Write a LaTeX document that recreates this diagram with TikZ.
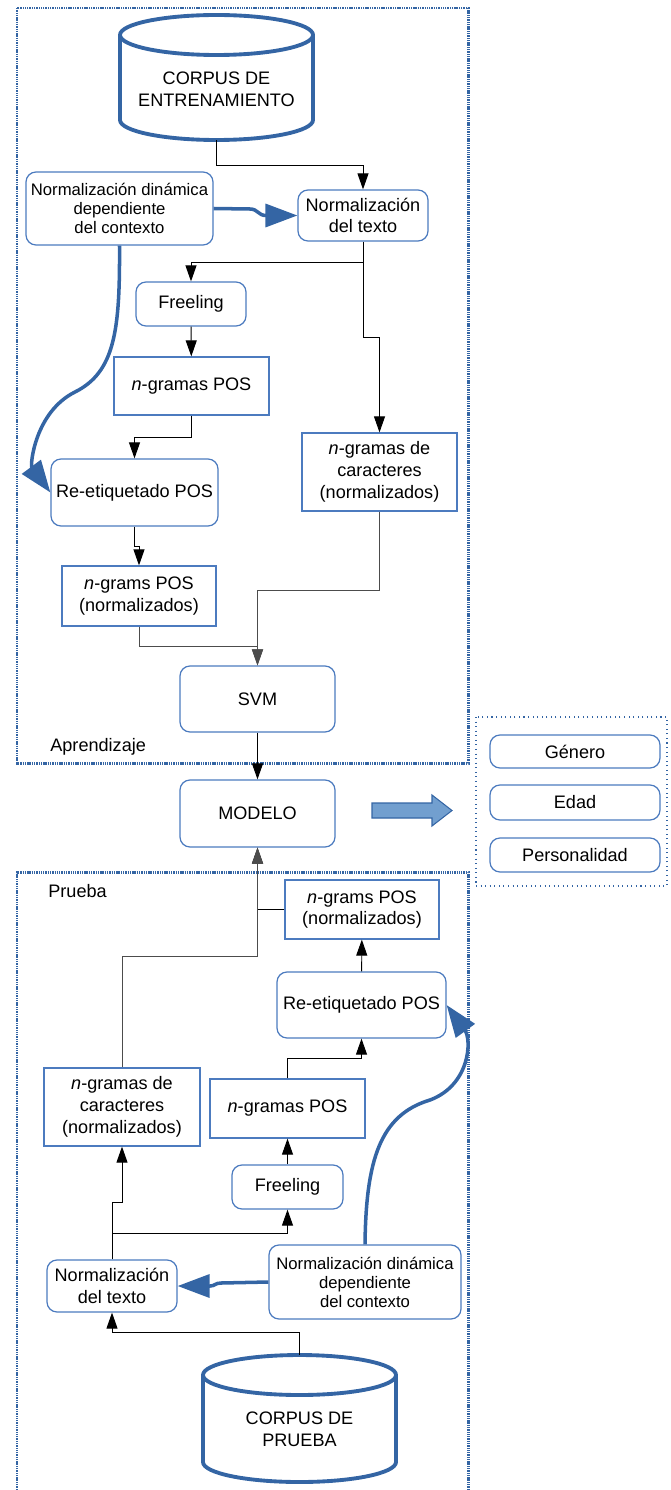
\documentclass[tikz,border=0pt]{standalone}
\usepackage{fontspec}
\setmainfont{Liberation Sans}
\usetikzlibrary{arrows.meta}
\definecolor{azul}{HTML}{3465A4}
\definecolor{borde}{HTML}{4C7BBF}
\definecolor{relleno}{HTML}{729FCF}
\newcommand\pxu{0.02cm}
\newcommand\letra{\fontsize{10.3}{12.4}\selectfont}
\newcommand\letrach{\fontsize{9.5}{10.8}\selectfont}
\tikzset{
  caja/.style={draw=borde, line width=0.7pt, fill=white, align=center, inner sep=1pt, font=\letra},
  redonda/.style={caja, rounded corners=0.2cm},
  cilindro/.style={draw=azul, line width=2.2pt},
  conector/.style={draw=black, line width=0.55pt, -{Triangle[length=0.32cm,width=0.22cm]}},
  gris/.style={conector, draw=black!70},
  gruesa/.style={draw=azul, line width=2pt, -{Triangle[length=0.64cm,width=0.46cm]}},
  marco/.style={draw=azul, line width=1.7pt, dash pattern=on 0.8pt off 0.5pt},
  marcofino/.style={draw=azul, line width=0.6pt, dotted},
  flecha/.style={fill=relleno, draw=azul, line width=0.6pt}
}
\begin{document}
\begin{tikzpicture}[x=\pxu, y=-\pxu]
  \useasboundingbox (0,0) rectangle (670,1490);
  % marcos
  \draw[marco] (17,8) rectangle (468,763);
  \draw[marco] (17,1490) -- (17,872) -- (468,872) -- (468,1490);
  \draw[marcofino] (476,717) rectangle (667,886);
  \node[anchor=west, inner sep=0pt, font=\letra] (aprend) at (50,747) {Aprendizaje};
  \node[anchor=west, inner sep=0pt, font=\letra] (prueba) at (48,891) {Prueba};

  % aprendizaje
  \draw[cilindro] (120,35) -- (120,120) arc[start angle=180, end angle=0, x radius=96.5, y radius=20] -- (313,35);
  \draw[cilindro] (216.5,35) ellipse [x radius=96.5, y radius=20];
  \node[minimum width=193*\pxu, minimum height=125*\pxu, inner sep=0pt,
    label={[font=\letra, align=center, yshift=-0.24cm]center:CORPUS DE\\ENTRENAMIENTO}] (corpusE) at (216.5,77.5) {};
  \node[redonda, font=\letrach, minimum width=187*\pxu, minimum height=73*\pxu] (dinE) at (119.5,208.5) {Normalización dinámica\\dependiente\\del contexto};
  \node[redonda, minimum width=130*\pxu, minimum height=51*\pxu] (normE) at (363,215.5) {Normalización\\del texto};
  \node[redonda, minimum width=110*\pxu, minimum height=44*\pxu] (freeE) at (191,304) {Freeling};
  \node[caja, minimum width=155*\pxu, minimum height=58*\pxu] (posE) at (191.5,386) {\textit{n}-gramas POS};
  \node[redonda, minimum width=167*\pxu, minimum height=67*\pxu] (retE) at (134.5,492.5) {Re-etiquetado POS};
  \node[caja, minimum width=155*\pxu, minimum height=78*\pxu] (carE) at (379.5,472) {\textit{n}-gramas de\\caracteres\\(normalizados)};
  \node[caja, minimum width=154*\pxu, minimum height=60*\pxu] (posnE) at (139,596) {\textit{n}-grams POS\\(normalizados)};
  \node[redonda, minimum width=155*\pxu, minimum height=66*\pxu] (svm) at (257.5,699) {SVM};
  \node[redonda, minimum width=155*\pxu, minimum height=67*\pxu] (modelo) at (257.5,813.5) {MODELO};

  % salidas
  \node[redonda, minimum width=170*\pxu, minimum height=33*\pxu] (genero) at (575,751.5) {Género};
  \node[redonda, minimum width=170*\pxu, minimum height=35*\pxu] (edad) at (575,802.5) {Edad};
  \node[redonda, minimum width=170*\pxu, minimum height=34*\pxu] (person) at (575,855) {Personalidad};
  \draw[flecha] (372,803) -- (432,803) -- (432,795) -- (452,810.5) -- (432,826) -- (432,818) -- (372,818) -- cycle;

  % prueba
  \node[caja, minimum width=154*\pxu, minimum height=59*\pxu] (posnP) at (362,909.5) {\textit{n}-grams POS\\(normalizados)};
  \node[redonda, minimum width=169*\pxu, minimum height=66*\pxu] (retP) at (361.5,1005) {Re-etiquetado POS};
  \node[caja, minimum width=155*\pxu, minimum height=59*\pxu] (posP) at (287.5,1108.5) {\textit{n}-gramas POS};
  \node[caja, minimum width=156*\pxu, minimum height=78*\pxu] (carP) at (122,1107) {\textit{n}-gramas de\\caracteres\\(normalizados)};
  \node[redonda, minimum width=111*\pxu, minimum height=44*\pxu] (freeP) at (287.5,1187) {Freeling};
  \node[redonda, minimum width=130*\pxu, minimum height=52*\pxu] (normP) at (112,1286) {Normalización\\del texto};
  \node[redonda, font=\letrach, minimum width=192*\pxu, minimum height=74*\pxu] (dinP) at (365,1282) {Normalización dinámica\\dependiente\\del contexto};
  \draw[cilindro] (203,1375) -- (203,1462) arc[start angle=180, end angle=0, x radius=96.5, y radius=20] -- (396,1375);
  \draw[cilindro] (299.5,1375) ellipse [x radius=96.5, y radius=20];
  \node[minimum width=193*\pxu, minimum height=127*\pxu, inner sep=0pt,
    label={[font=\letra, align=center, yshift=-0.22cm]center:CORPUS DE\\PRUEBA}] (corpusP) at (299.5,1418.5) {};

  % conectores aprendizaje
  \draw[conector] (corpusE.south) -- ++(0,25) -| (normE.north);
  \draw[conector] (normE.south) -- ++(0,21) coordinate (ramaE) -| (freeE.north);
  \draw[conector] (ramaE) -- ++(0,75) -| (carE.north);
  \draw[conector] (freeE) -- (posE);
  \draw[conector] (posE.south) -- ++(0,22) -| (retE.north);
  \draw[conector] (retE.south) -- ++(0,20) -| (posnE.north);
  \draw[gris] (posnE.south) -- ++(0,20) -| (svm.north);
  \draw[gris] (carE.south) -- ++(0,79) -| (svm.north);
  \draw[conector] (svm) -- (modelo);
  \draw[gruesa] (dinE.east) -- (250,209) .. controls (258,209) and (258,215.5) .. (266,215.5) -- (normE.west);
  \draw[gruesa] (dinE.south) .. controls (120,330) and (115,372) .. (75,392) .. controls (35,412) and (30,465) .. (retE.west);

  % conectores prueba
  \draw[conector] (posnP.west) -| (modelo.south);
  \draw[gris] (carP.north) -- ++(0,-111) -| (modelo.south);
  \draw[conector] (retP) -- (posnP);
  \draw[conector] (posP.north) -- ++(0,-20) -| (retP.south);
  \draw[conector] (freeP) -- (posP);
  \draw[conector] (normP.north) -- ++(0,-26) coordinate (ramaP) -| (freeP.south);
  \draw[conector] (ramaP) -- ++(0,-31) -| (carP.south);
  \draw[conector] (corpusP.north) -- ++(0,-22) -| (normP.south);
  \draw[gruesa] (dinP.west) -- (221,1283) .. controls (215,1283) and (215,1286) .. (210,1286) -- (normP.east);
  \draw[gruesa] (dinP.north) .. controls (366,1160) and (380,1115) .. (430,1100) .. controls (470,1085) and (472,1040) .. (retP.east);
\end{tikzpicture}
\end{document}
